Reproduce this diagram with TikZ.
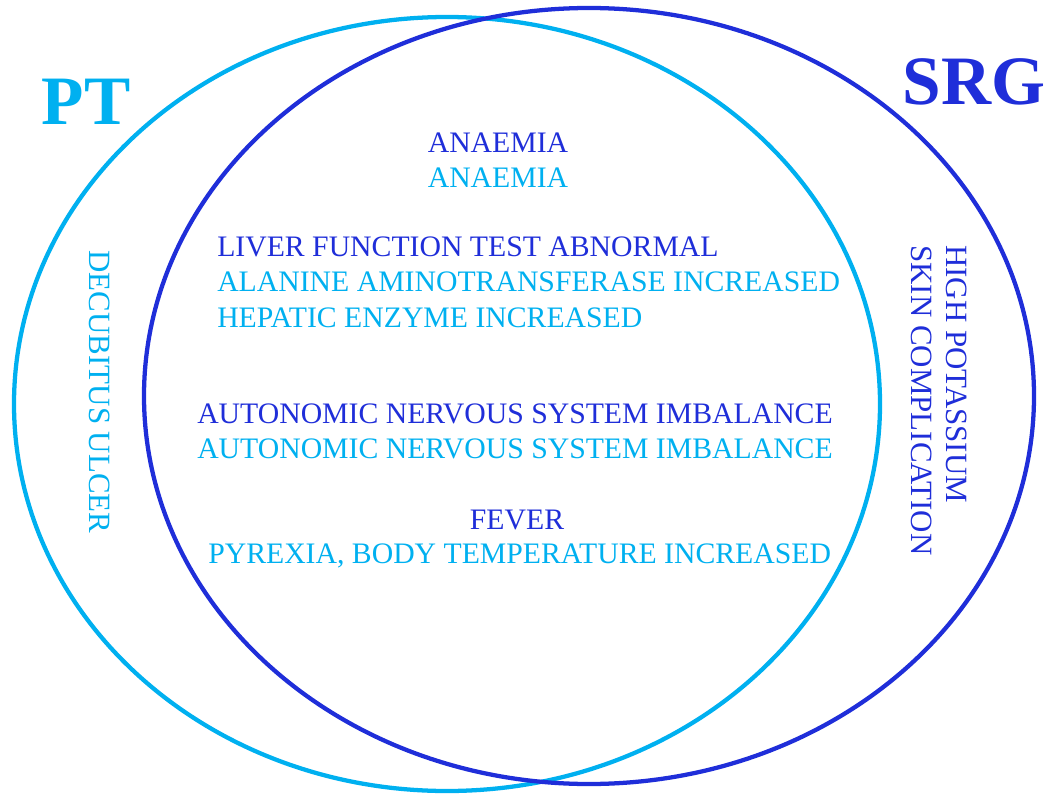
\documentclass[tikz,border=0pt]{standalone}
\usepackage{fontspec}
\setmainfont{Liberation Serif}
\definecolor{ptblue}{HTML}{00B0F0}
\definecolor{srgblue}{HTML}{1F2ED9}
\begin{document}
\begin{tikzpicture}[x=0.75pt,y=-0.75pt,
  lbl/.style={inner sep=0pt,font=\fontsize{22.3}{25}\selectfont},
  dk/.style={lbl,text=srgblue},
  lt/.style={lbl,text=ptblue},
  vert/.style={inner sep=0pt,rotate=-90,font=\fontsize{23.2}{26}\selectfont},
  title/.style={inner sep=0pt,font=\fontsize{52}{56}\selectfont\bfseries}]
\useasboundingbox (0,0) rectangle (1045,795);
\draw[ptblue,line width=3.2pt] (447,404) ellipse [x radius=433, y radius=387];
\draw[srgblue,line width=3.2pt] (589,396) ellipse [x radius=445, y radius=388];
\node[title,text=ptblue,anchor=base] (pt) at (86,125) {PT};
\node[title,text=srgblue,anchor=base] (srg) at (974,105) {SRG};
\node[dk,anchor=base] (an1) at (498,152) {ANAEMIA};
\node[lt,anchor=base] (an2) at (498,187) {ANAEMIA};
\node[dk,anchor=base west] (lf) at (217,256) {LIVER FUNCTION TEST ABNORMAL};
\node[lt,anchor=base west] (alt) at (217,291) {ALANINE AMINOTRANSFERASE INCREASED};
\node[lt,anchor=base west] (hep) at (217,327) {HEPATIC ENZYME INCREASED};
\node[dk,anchor=base west] (ans1) at (197,423) {AUTONOMIC NERVOUS SYSTEM IMBALANCE};
\node[lt,anchor=base west] (ans2) at (197,458) {AUTONOMIC NERVOUS SYSTEM IMBALANCE};
\node[dk,anchor=base] (fev) at (517,529) {FEVER};
\node[lt,anchor=base west] (pyr) at (208,563) {PYREXIA, BODY TEMPERATURE INCREASED};
\node[vert,text=ptblue,anchor=center] (dec) at (100,392) {DECUBITUS ULCER};
\node[vert,text=srgblue,anchor=west] (hk) at (957,245) {HIGH POTASSIUM};
\node[vert,text=srgblue,anchor=west] (skin) at (922,245) {SKIN COMPLICATION};
\end{tikzpicture}
\end{document}
